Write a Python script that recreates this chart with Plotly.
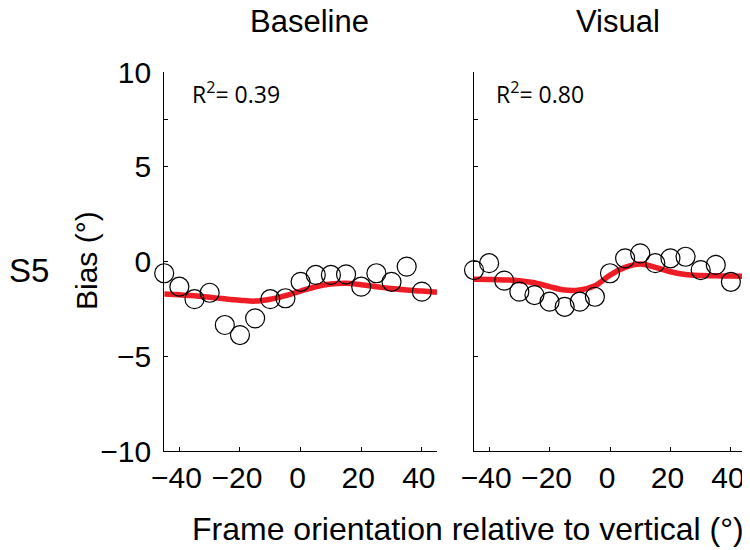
import plotly.graph_objects as go

# ---- data ----
frame_x = [-45, -40, -35, -30, -25, -20, -15, -10, -5, 0, 5, 10, 15, 20, 25, 30, 35, 40]
baseline_bias = [-0.62, -1.33, -1.99, -1.65, -3.35, -3.88, -3.00, -1.99, -1.94, -1.07,
                 -0.71, -0.71, -0.68, -1.33, -0.62, -1.07, -0.27, -1.59]
visual_bias = [-0.45, -0.09, -1.01, -1.59, -1.77, -2.12, -2.39, -2.12, -1.86, -0.62,
               0.17, 0.43, -0.09, 0.17, 0.25, -0.45, -0.18, -1.07]

fit_x = [-45, -40, -35, -30, -25, -20, -15, -10, -5, 0, 5, 10, 15, 20, 25, 30, 35, 40, 45]
baseline_fit = [-1.71, -1.76, -1.81, -1.89, -1.97, -2.04, -2.09, -1.99, -1.80, -1.56,
                -1.33, -1.19, -1.15, -1.23, -1.33, -1.43, -1.51, -1.56, -1.62]
visual_fit = [-0.94, -0.95, -0.97, -1.01, -1.12, -1.33, -1.51, -1.50, -1.28, -0.72,
              -0.31, -0.13, -0.31, -0.54, -0.69, -0.74, -0.75, -0.77, -0.79]

panel_titles = ["Baseline", "Visual"]
r2_labels = ["R<sup>2</sup>= 0.39", "R<sup>2</sup>= 0.80"]
x_ticks = [-40, -20, 0, 20, 40]
x_ticktext = ["\u221240", "\u221220", "0", "20", "40"]
y_ticks = [-10, -5, 0, 5, 7.5, 10]
y_ticktext = ["\u221210", "\u22125", "0", "5", "", "10"]

FONT = "Liberation Sans, Arial, Helvetica, sans-serif"
RED = "#EE1C25"

# page body has an 8px margin; figure is placed at (8, 8)
OFF = 8
W, H = 750 - OFF, 550 - OFF


def PX(px):
    return (px - OFF) / W


def PY(py):
    return 1 - (py - OFF) / H


fig = go.Figure()

for i, (ys, fit) in enumerate([(baseline_bias, baseline_fit), (visual_bias, visual_fit)]):
    xa = "x" if i == 0 else "x2"
    ya = "y" if i == 0 else "y2"
    fig.add_trace(go.Scatter(x=fit_x, y=fit, mode="lines", xaxis=xa, yaxis=ya,
                             line=dict(color=RED, width=5.5, shape="spline", smoothing=1.0),
                             cliponaxis=False, showlegend=False))
    fig.add_trace(go.Scatter(x=frame_x, y=ys, mode="markers", xaxis=xa, yaxis=ya,
                             marker=dict(symbol="circle-open", size=19, color="black",
                                         line=dict(width=1.2, color="black")),
                             cliponaxis=False, showlegend=False))

xcommon = dict(range=[-45, 45], tickvals=x_ticks, ticktext=x_ticktext, ticks="inside",
               ticklen=4, tickwidth=1, tickcolor="black", showline=True, linecolor="black",
               linewidth=1.2, showgrid=False, zeroline=False, automargin=False,
               ticklabelshift=-3,
               tickfont=dict(family=FONT, size=30, color="black"))
ycommon = dict(range=[-10, 10], tickvals=y_ticks, ticks="inside", ticklen=4, tickwidth=1,
               tickcolor="black", showline=True, linecolor="black", linewidth=1.2,
               showgrid=False, zeroline=False, automargin=False,
               tickfont=dict(family=FONT, size=30, color="black"))

ydom = [PY(451), PY(72)]
fig.update_layout(
    template="none",
    width=W, height=H,
    margin=dict(l=0, r=0, t=0, b=0, autoexpand=False),
    paper_bgcolor="white", plot_bgcolor="white",
    xaxis=dict(domain=[PX(164.2), PX(437)], anchor="y", **xcommon),
    xaxis2=dict(domain=[PX(474), PX(746)], anchor="y2", **xcommon),
    yaxis=dict(domain=ydom, anchor="x", ticktext=y_ticktext, ticklabelstandoff=6, **ycommon),
    yaxis2=dict(domain=ydom, anchor="x2", showticklabels=False, **ycommon),
)


def ann(text, x, y, size, family=FONT, xanchor="center", angle=0):
    return dict(text=text, x=PX(x), y=PY(y), xref="paper", yref="paper",
                xanchor=xanchor, yanchor="middle", textangle=angle, showarrow=False,
                font=dict(family=family, size=size, color="black"))


annotations = [
    ann(panel_titles[0], 309, 21, 31),
    ann(panel_titles[1], 618, 21, 31),
    ann(r2_labels[0], 190, 93, 23, family="Open Sans, sans-serif", xanchor="left"),
    ann(r2_labels[1], 494, 93, 23, family="Open Sans, sans-serif", xanchor="left"),
    ann("Frame orientation relative to vertical (\u00b0)", 468, 529, 32),
    ann("Bias (\u00b0)", 86, 261, 30, angle=-90),
    ann("S5", 29, 270, 33),
]
fig.update_layout(annotations=annotations)

fig.write_html("out.html")
